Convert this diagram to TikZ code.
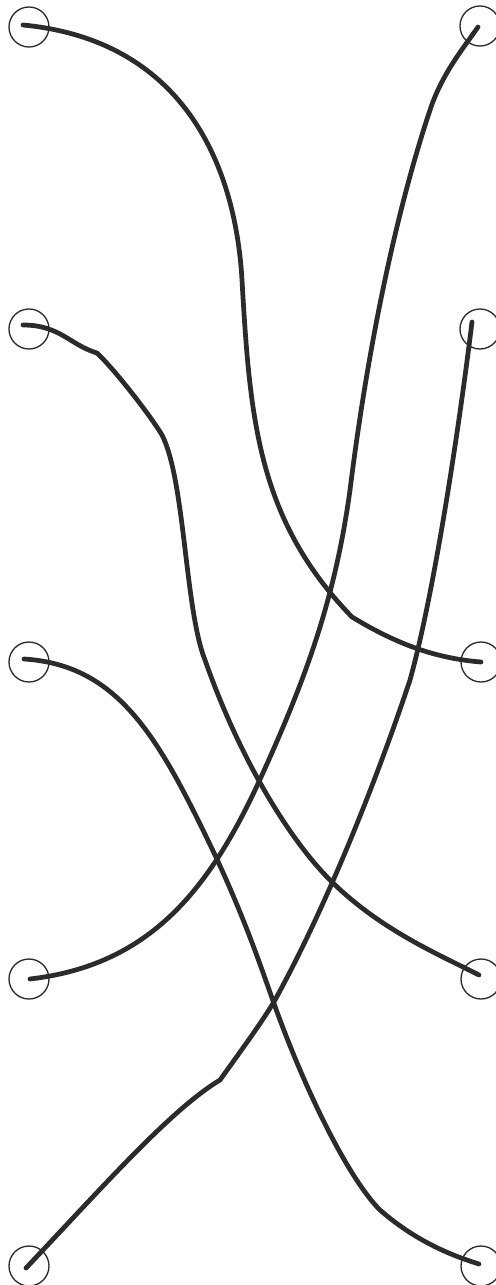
\documentclass[tikz,border=0pt]{standalone}
\usetikzlibrary{positioning}
\definecolor{ink}{HTML}{2B2B2B}
\tikzset{
    port/.style={draw=ink, circle, line width=0.75pt, minimum size=0.8cm, inner sep=0pt},
    wire/.style={draw=ink, line width=2.7pt, line cap=round, line join=round}
}

\begin{document}
\begin{tikzpicture}[x=0.02cm, y=-0.02cm]
    \useasboundingbox (0, 0) rectangle (496, 1285);

    \node[port] (L1) at (29, 27) {};
    \node[port] (L2) at (29, 329) {};
    \node[port] (L3) at (29, 662) {};
    \node[port] (L4) at (29, 979) {};
    \node[port] (L5) at (29, 1266) {};
    \node[port] (R1) at (480, 26) {};
    \node[port] (R2) at (480, 329) {};
    \node[port] (R3) at (481, 662) {};
    \node[port] (R4) at (481, 979) {};
    \node[port] (R5) at (481, 1266) {};

    \coordinate (l1) at (23, 25);
    \coordinate (l2) at (23, 325);
    \coordinate (l3) at (24, 659);
    \coordinate (l4) at (30, 979);
    \coordinate (l5) at (26, 1268);
    \coordinate (r1) at (478, 27);
    \coordinate (r2) at (472, 322);
    \coordinate (r3) at (481, 662);
    \coordinate (r4) at (479, 975);
    \coordinate (r5) at (479, 1264);

    \draw[wire] (l1) .. controls (180, 40) and (235, 160) .. (242, 280)
        .. controls (250, 420) and (258, 520) .. (352, 617)
        .. controls (390, 640) and (430, 658) .. (r3);
    \draw[wire] (l2) .. controls (60, 325) and (70, 345) .. (97, 353)
        .. controls (115, 370) and (150, 415) .. (162, 435)
        .. controls (185, 480) and (185, 610) .. (205, 660)
        .. controls (240, 760) and (290, 840) .. (330, 880)
        .. controls (380, 930) and (440, 955) .. (r4);
    \draw[wire] (l3) .. controls (120, 665) and (160, 740) .. (215, 855)
        .. controls (250, 930) and (265, 980) .. (280, 1020)
        .. controls (310, 1100) and (350, 1180) .. (380, 1210)
        .. controls (420, 1245) and (460, 1258) .. (r5);
    \draw[wire] (l4) .. controls (150, 965) and (210, 890) .. (262, 775)
        .. controls (305, 680) and (335, 600) .. (350, 490)
        .. controls (370, 330) and (400, 200) .. (430, 110)
        .. controls (442, 74) and (462, 50) .. (r1);
    \draw[wire] (l5) .. controls (100, 1190) and (170, 1110) .. (220, 1080)
        .. controls (245, 1045) and (262, 1022) .. (275, 1000)
        .. controls (330, 900) and (380, 770) .. (410, 680)
        .. controls (435, 590) and (460, 420) .. (r2);
\end{tikzpicture}
\end{document}
